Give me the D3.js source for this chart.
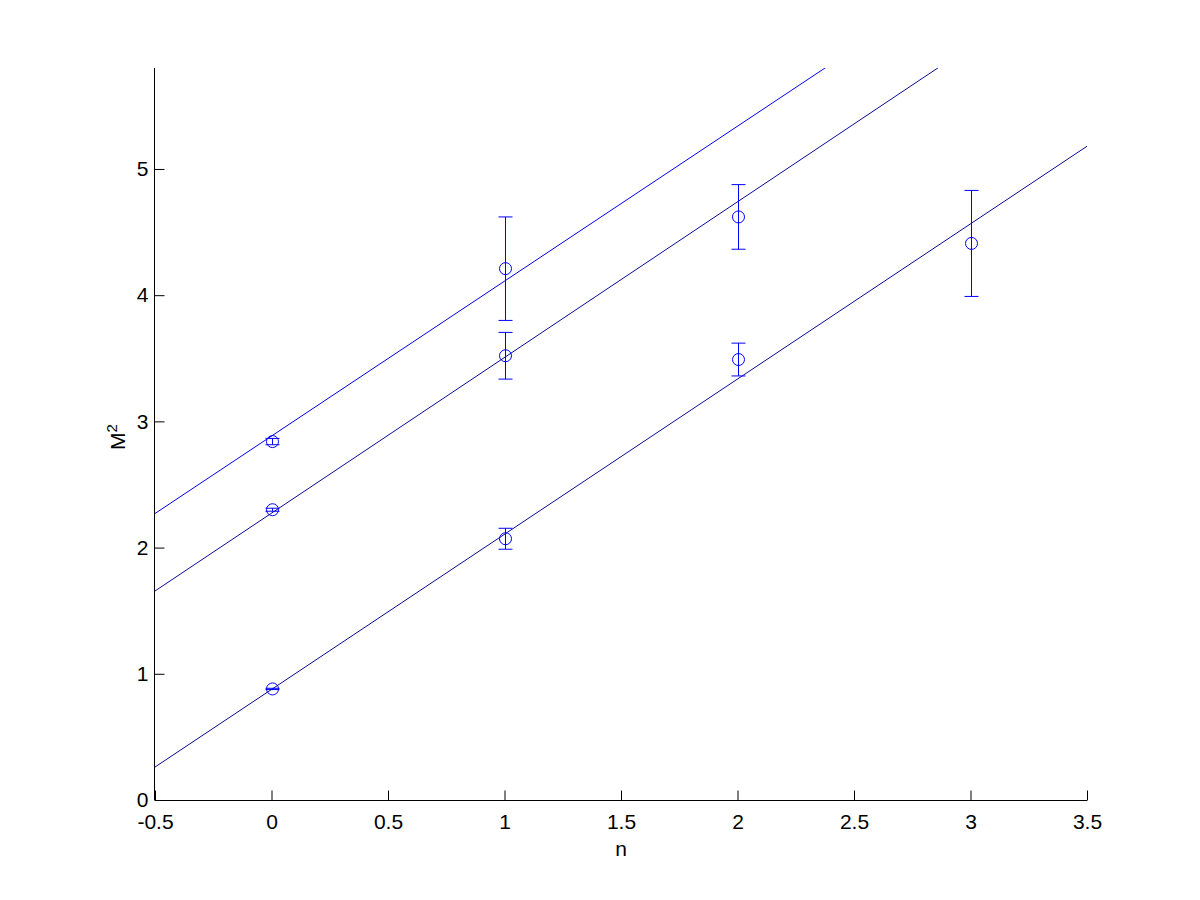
<!DOCTYPE html>
<html><head><meta charset="utf-8">
<script src="https://cdn.jsdelivr.net/npm/d3@7"></script>
<style>body{margin:0;background:#fff}svg{display:block}text{font-family:"Liberation Sans",Arial,sans-serif}</style>
</head><body>
<script>
// Data
const pointsN = [0, 0, 0, 1, 1, 1, 2, 2, 3];
const pointsM2 = [2.84, 2.30, 0.88, 4.21, 3.52, 2.07, 4.62, 3.49, 4.41];
const pointsErr = [0.025, 0.012, 0.005, 0.41, 0.185, 0.083, 0.256, 0.13, 0.42];
const fitX = [-0.5, 3.5];
const fitTop = [2.27, 7.18];
const fitMid = [1.656, 6.59];
const fitLow = [0.261, 5.18];
const xTicks = [-0.5, 0, 0.5, 1, 1.5, 2, 2.5, 3, 3.5];
const yTicks = [0, 1, 2, 3, 4, 5];

const W = 1200, H = 900;
const m = {l: 155, r: 113, t: 68, b: 100};
const svg = d3.select("body").append("svg").attr("width", W).attr("height", H);
const x = d3.scaleLinear().domain([-0.5, 3.5]).range([m.l, W - m.r]);
const y = d3.scaleLinear().domain([0, 5.8]).range([H - m.b, m.t]);

svg.append("clipPath").attr("id", "clip").append("rect")
  .attr("x", m.l).attr("y", m.t).attr("width", W - m.r - m.l).attr("height", H - m.b - m.t);

const g = svg.append("g").attr("clip-path", "url(#clip)");
const line = d3.line().x(d => x(d[0])).y(d => y(d[1]));
[[fitTop, "#0000ee"], [fitMid, "#0a0a96"], [fitLow, "#0a0a96"]].forEach(([ys, c]) => {
  g.append("path").datum(fitX.map((v, i) => [v, ys[i]]))
    .attr("d", line).attr("fill", "none").attr("stroke", c).attr("stroke-width", 1);
});

const pts = pointsN.map((n, i) => ({n, v: pointsM2[i], e: pointsErr[i]}));
const eb = svg.append("g").attr("stroke", "#0000ff").attr("fill", "none").attr("stroke-width", 1);
pts.forEach(p => {
  const cx = Math.round(x(p.n)) + 0.5;
  eb.append("line").attr("x1", cx).attr("x2", cx).attr("y1", y(p.v - p.e)).attr("y2", y(p.v + p.e));
  eb.append("line").attr("x1", cx - 7).attr("x2", cx + 7).attr("y1", y(p.v - p.e)).attr("y2", y(p.v - p.e));
  eb.append("line").attr("x1", cx - 7).attr("x2", cx + 7).attr("y1", y(p.v + p.e)).attr("y2", y(p.v + p.e));
  eb.append("circle").attr("cx", cx).attr("cy", y(p.v)).attr("r", 6);
});

// Axes
const xAxis = d3.axisBottom(x).tickValues(xTicks).tickSize(-10).tickPadding(14).tickFormat(d => String(d));
const yAxis = d3.axisLeft(y).tickValues(yTicks).tickSize(-10).tickPadding(6).tickFormat(d => String(d));
const gx = svg.append("g").attr("transform", `translate(0,${H - m.b + 0.5})`).call(xAxis);
const gy = svg.append("g").attr("transform", `translate(${m.l - 0.5},0)`).call(yAxis);
[gx, gy].forEach(a => {
  a.select(".domain").attr("stroke", "#000").attr("d", null);
  a.selectAll(".tick line").attr("stroke", "#000");
  a.selectAll("text").attr("font-size", 21).attr("fill", "#000").attr("font-family", "Liberation Sans, Arial, sans-serif");
});
gx.select(".domain").attr("d", `M${m.l},0H${W - m.r}`);
gy.select(".domain").attr("d", `M0,${H - m.b}V${m.t}`);

svg.append("text").attr("x", (m.l + W - m.r) / 2).attr("y", 856).attr("text-anchor", "middle")
  .attr("font-size", 21).text("n");
const yl = svg.append("text").attr("transform", "translate(125,437) rotate(-90)").attr("text-anchor", "middle")
  .attr("font-size", 21);
yl.append("tspan").text("M");
yl.append("tspan").attr("font-size", 15).attr("dy", -8).text("2");
</script>
</body></html>
